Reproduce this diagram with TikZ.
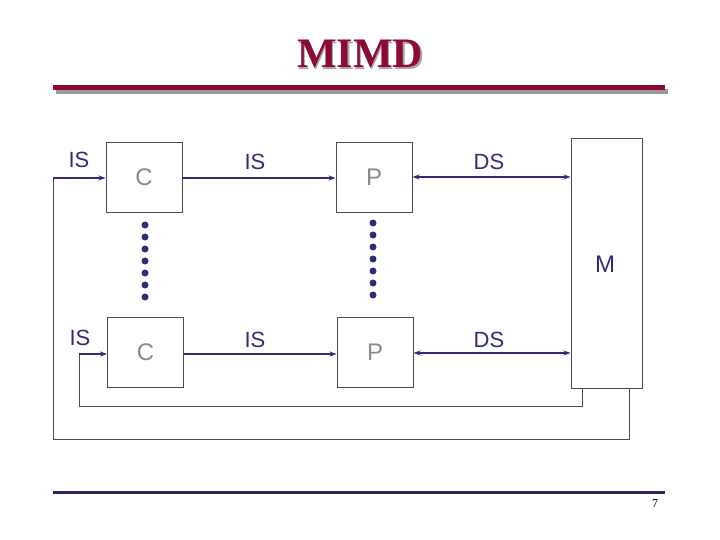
\documentclass[tikz,border=0pt]{standalone}
\usepackage{fontspec}
\setmainfont{Liberation Sans}
\newfontfamily\titlefont{Liberation Serif}
\usetikzlibrary{arrows.meta}
\definecolor{navy}{HTML}{2E2E78}
\definecolor{titlered}{HTML}{8B0A3A}
\definecolor{boxgray}{HTML}{4A4A5A}
\definecolor{lettergray}{HTML}{8A8A8A}
\tikzset{
  box/.style={draw=boxgray, line width=0.9pt, minimum width=76pt, minimum height=70pt, inner sep=0pt, font=\fontsize{24}{24}\selectfont, text=lettergray},
  lbl/.style={font=\fontsize{22}{22}\selectfont, text=navy, inner sep=0pt},
  conn/.style={draw=navy, line width=1.4pt},
  loop/.style={draw=boxgray, line width=0.9pt},
  tip/.style={-{Stealth[length=7pt,width=5pt]}},
  dot/.style={circle, fill=navy, minimum size=7pt, inner sep=0pt}
}
\begin{document}
\begin{tikzpicture}[x=1pt,y=-1pt]
\useasboundingbox (0,0) rectangle (720,540);
% title
\node[font=\titlefont\bfseries\fontsize{42}{42}\selectfont, text=black!35] at (361.5,55.5) {MIMD};
\node[font=\titlefont\bfseries\fontsize{42}{42}\selectfont, text=titlered] (title) at (360,54) {MIMD};
\fill[black!40] (56,89) rectangle (668,94);
\fill[titlered] (53,85.5) rectangle (665,90.5);
% boxes
\node[box] (C1) at (144,177) {C};
\node[box] (P1) at (374,177) {P};
\node[box] (C2) at (145.5,352.5) {C};
\node[box] (P2) at (375,352.5) {P};
\node[draw=boxgray, line width=0.9pt, minimum width=71pt, minimum height=250pt, inner sep=0pt] (M) at (606.5,263) {};
\node[lbl, font=\fontsize{24}{24}\selectfont] (Mlab) at (605,264) {M};
% labels
\node[lbl] (is1) at (79,160) {IS};
\node[lbl] (is2) at (255,162) {IS};
\node[lbl] (ds1) at (489,162) {DS};
\node[lbl] (is3) at (80,338) {IS};
\node[lbl] (is4) at (255,340) {IS};
\node[lbl] (ds2) at (489,340) {DS};
% connectors
\draw[conn,tip] (C1.east |- 0,178) -- (P1.west |- 0,178);
\draw[conn,{Stealth[length=7pt,width=5pt]}-{Stealth[length=7pt,width=5pt]}] (P1.east |- 0,177) -- (M.west |- 0,177);
\draw[conn,tip] (C2.east |- 0,354) -- (P2.west |- 0,354);
\draw[conn,{Stealth[length=7pt,width=5pt]}-{Stealth[length=7pt,width=5pt]}] (P2.east |- 0,353) -- (M.west |- 0,353);
% feedback loops
\coordinate (ia) at (582,406);
\coordinate (ib) at (79,354);
\coordinate (oa) at (629,439);
\coordinate (ob) at (53,178);
\draw[loop] (M.south -| ia) -- (ia) -- (ia -| ib) -- (ib);
\draw[conn,tip] (ib) -- (C2.west |- ib);
\draw[loop] (M.south -| oa) -- (oa) -- (oa -| ob) -- (ob);
\draw[conn,tip] (ob) -- (C1.west |- ob);
% dots
\foreach \i in {0,...,6} {
  \node[dot] (ld\i) at (145,225+12*\i) {};
  \node[dot] (rd\i) at (373,223+12*\i) {};
}
% bottom rule and page number
\fill[navy!80!black] (53,490.5) rectangle (665,493.5);
\node[font=\titlefont\fontsize{12}{12}\selectfont] (pg) at (655,504) {7};
\end{tikzpicture}
\end{document}
